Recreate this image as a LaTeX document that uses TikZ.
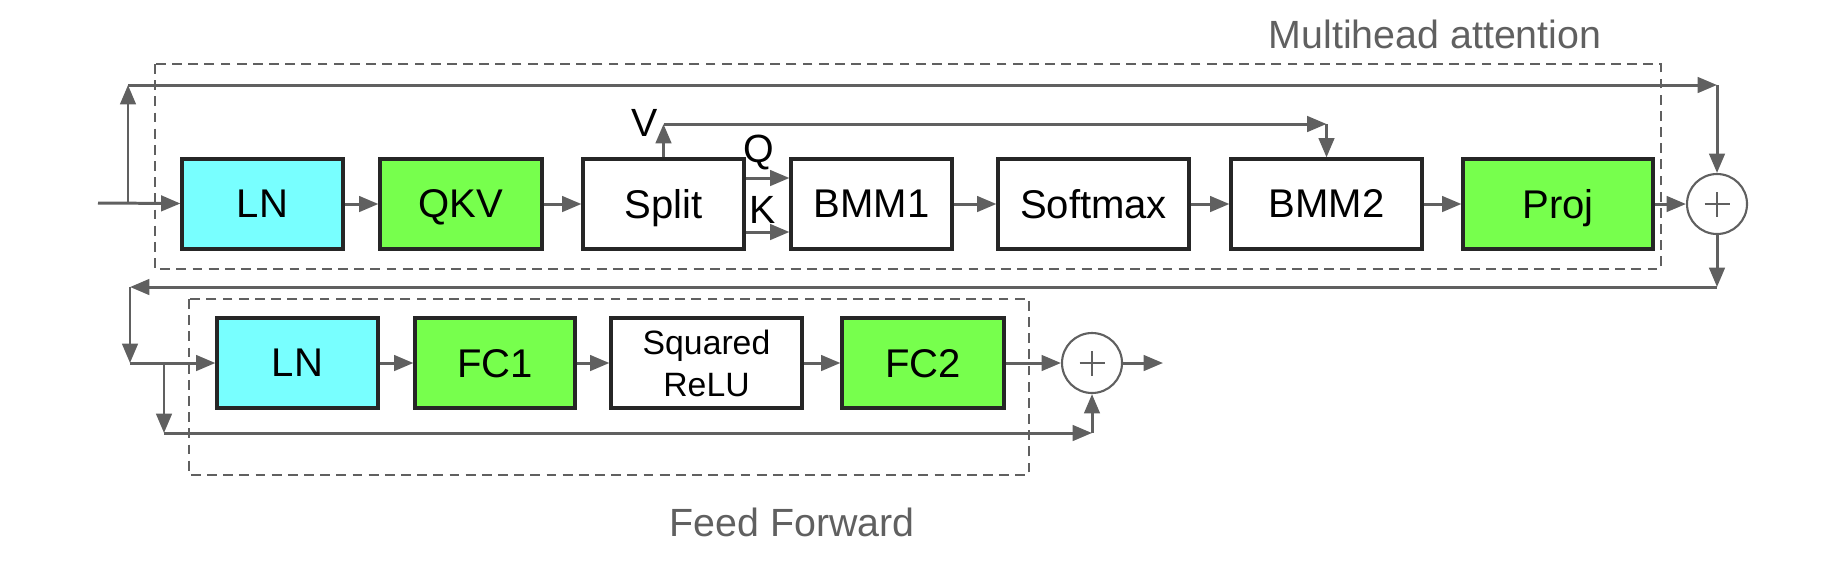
\documentclass[tikz,border=0pt]{standalone}
\usepackage{fontspec}
\setmainfont{Liberation Sans}
\usetikzlibrary{arrows.meta}
\definecolor{lncyan}{HTML}{78FFFF}
\definecolor{fcgreen}{HTML}{77FF4D}
\definecolor{wiregray}{HTML}{606060}
\tikzset{
    block/.style = {rectangle, draw=black!85, line width=0.9pt, minimum height=0.9cm, inner sep=0pt, text depth=0pt, align=center, font=\fontsize{11.4}{12.2}\selectfont},
    lnblock/.style = {block, fill=lncyan},
    fcblock/.style = {block, fill=fcgreen},
    adder/.style = {circle, draw=wiregray, line width=0.6pt, minimum size=0.6cm, inner sep=0pt, fill=white,
        path picture={\draw[wiregray,line width=0.6pt] (path picture bounding box.center) ++(-0.125,0) -- ++(0.25,0)
            (path picture bounding box.center) ++(0,-0.125) -- ++(0,0.25);}},
    wire/.style = {-{Triangle[length=5.5pt,width=4.4pt]}, line width=0.85pt, draw=wiregray},
    group/.style = {draw=wiregray, dash pattern=on 2.8pt off 1.8pt, line width=0.6pt},
    title/.style = {text=wiregray, inner sep=0pt, font=\fontsize{11.2}{13}\selectfont},
    qkvlabel/.style = {inner sep=0pt, font=\fontsize{11.2}{13}\selectfont}
}
\begin{document}
\begin{tikzpicture}
\useasboundingbox (0,0) rectangle (18.31,-5.68);
%
% dashed groups
\draw[group] (1.55,-0.64) rectangle (16.61,-2.69);
\draw[group] (1.89,-2.99) rectangle (10.29,-4.75);
\node[title] (mhatitle) at (14.35,-0.34) {Multihead attention};
\node[title] (fftitle) at (7.92,-5.22) {Feed Forward};
%
% attention row
\node[lnblock, minimum width=1.61cm] at (2.625,-2.04) (ln1) {LN};
\node[fcblock, minimum width=1.62cm] at (4.61,-2.04) (qkv) {QKV};
\node[block, minimum width=1.61cm] at (6.635,-2.04) (split) {Split};
\node[block, minimum width=1.61cm] at (8.715,-2.04) (bmm1) {BMM1};
\node[block, minimum width=1.91cm] at (10.935,-2.04) (softmax) {Softmax};
\node[block, minimum width=1.91cm] at (13.265,-2.04) (bmm2) {BMM2};
\node[fcblock, minimum width=1.90cm] at (15.58,-2.04) (proj) {Proj};
\node[adder] at (17.17,-2.04) (p1) {};
%
% feed forward row
\node[lnblock, minimum width=1.61cm] at (2.975,-3.63) (ln2) {LN};
\node[fcblock, minimum width=1.60cm] at (4.95,-3.63) (fc1) {FC1};
\node[block, minimum width=1.91cm, font=\fontsize{9.6}{11.9}\selectfont] at (7.065,-3.63) (relu) {Squared\\ReLU};
\node[fcblock, minimum width=1.62cm] at (9.23,-3.63) (fc2) {FC2};
\node[adder] at (10.92,-3.63) (p2) {};
%
% V, Q, K labels
\node[qkvlabel] at (6.45,-1.23) (vlab) {V};
\node[qkvlabel] at (7.59,-1.52) (qlab) {Q};
\node[qkvlabel] at (7.63,-2.10) (klab) {K};
%
% free ends
\coordinate (in) at (0.98,-2.03);
\coordinate (br1) at (1.28,-2.04);
\coordinate (skipL) at (1.28,-0.85);
\coordinate (skipR) at (17.17,-0.85);
\coordinate (vtop) at (6.635,-1.24);
\coordinate (vcorner) at (13.265,-1.24);
\coordinate (retR) at (17.17,-2.87);
\coordinate (retL) at (1.30,-2.87);
\coordinate (ffin) at (1.30,-3.63);
\coordinate (br2) at (1.64,-3.63);
\coordinate (skip2L) at (1.64,-4.33);
\coordinate (skip2R) at (10.92,-4.33);
\coordinate (out) at (11.63,-3.63);
%
\draw[wire] (in) -- (ln1);
\draw[wire] (ln1) -- (qkv);
\draw[wire] (qkv) -- (split);
\draw[wire] ([yshift=2.6mm]split.east) -- ([yshift=2.6mm]bmm1.west);
\draw[wire] ([yshift=-2.8mm]split.east) -- ([yshift=-2.8mm]bmm1.west);
\draw[wire] (bmm1) -- (softmax);
\draw[wire] (softmax) -- (bmm2);
\draw[wire] (bmm2) -- (proj);
\draw[wire] (proj) -- (p1);
\draw[wire] (split.north) -- (vtop);
\draw[wire] (vtop) -- (vcorner);
\draw[wire] (vcorner) -- (bmm2.north);
\draw[wire] (br1) -- (skipL);
\draw[wire] (skipL) -- (skipR);
\draw[wire] (skipR) -- (p1.north);
\draw[wire] (p1.south) -- (retR);
\draw[wire] (retR) -- (retL);
\draw[wire] (retL) -- (ffin);
\draw[wire] (ffin) -- (ln2);
\draw[wire] (ln2) -- (fc1);
\draw[wire] (fc1) -- (relu);
\draw[wire] (relu) -- (fc2);
\draw[wire] (fc2) -- (p2);
\draw[wire] (p2) -- (out);
\draw[wire] (br2) -- (skip2L);
\draw[wire] (skip2L) -- (skip2R);
\draw[wire] (skip2R) -- (p2.south);
\end{tikzpicture}
\end{document}
